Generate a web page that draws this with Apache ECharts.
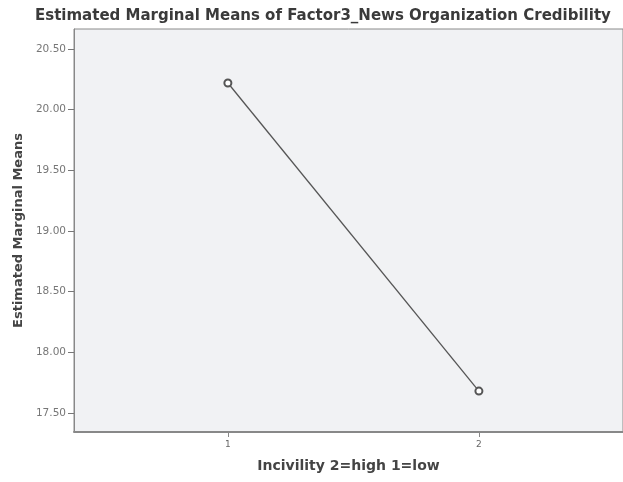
<!DOCTYPE html>
<html>
<head>
<meta charset="utf-8">
<script src="https://cdn.jsdelivr.net/npm/echarts@6/dist/echarts.min.js"></script>
<style>html,body{margin:0;padding:0;background:#fff}#c{width:623px;height:482px}</style>
</head>
<body>
<div id="c"></div>
<script>
const titleText = "Estimated Marginal Means of Factor3_News Organization Credibility";
const xName = "Incivility 2=high 1=low";
const yName = "Estimated Marginal Means";
const categories = [1, 2];
const means = [20.22, 17.68];
const yTicks = [17.5, 18.0, 18.5, 19.0, 19.5, 20.0, 20.5];

const chart = echarts.init(document.getElementById('c'), null, {renderer: 'canvas'});
const font = "DejaVu Sans";
chart.setOption({
  animation: false,
  backgroundColor: '#fff',
  title: {
    text: titleText, left: 30, top: 4,
    textStyle: {fontFamily: font, fontSize: 15, fontWeight: 'bold', color: '#3a3a3a'}
  },
  grid: {
    left: 74, right: 0, top: 29, bottom: 50,
    show: true, backgroundColor: '#f1f2f4', borderColor: '#8a8a8a', borderWidth: 1
  },
  xAxis: {
    type: 'value', min: 0.387, max: 2.574,
    name: xName, nameLocation: 'middle', nameGap: 27,
    nameTextStyle: {fontFamily: font, fontSize: 14, fontWeight: 'bold', color: '#444'},
    axisLine: {show: true, lineStyle: {color: '#888', width: 2}},
    axisTick: {show: true, length: 5, customValues: categories, lineStyle: {color: '#888'}},
    axisLabel: {customValues: categories, fontFamily: font, fontSize: 9, color: '#666', margin: 8},
    splitLine: {show: false}
  },
  yAxis: {
    type: 'value', min: 17.343, max: 20.665,
    name: yName, nameLocation: 'middle', nameGap: 49,
    nameTextStyle: {fontFamily: font, fontSize: 13, fontWeight: 'bold', color: '#444'},
    axisLine: {show: true, lineStyle: {color: '#888', width: 1}},
    axisTick: {show: true, length: 6, customValues: yTicks, lineStyle: {color: '#777'}},
    axisLabel: {customValues: yTicks, fontFamily: font, fontSize: 10.5, color: '#777', margin: 8,
      formatter: v => v.toFixed(2)},
    splitLine: {show: false}
  },
  series: [{
    type: 'line',
    data: categories.map((c, i) => [c, means[i]]),
    symbol: 'emptyCircle', symbolSize: 7,
    lineStyle: {color: '#555', width: 1.3},
    itemStyle: {color: '#555', borderColor: '#444', borderWidth: 1.2}
  }]
});
</script>
</body>
</html>
